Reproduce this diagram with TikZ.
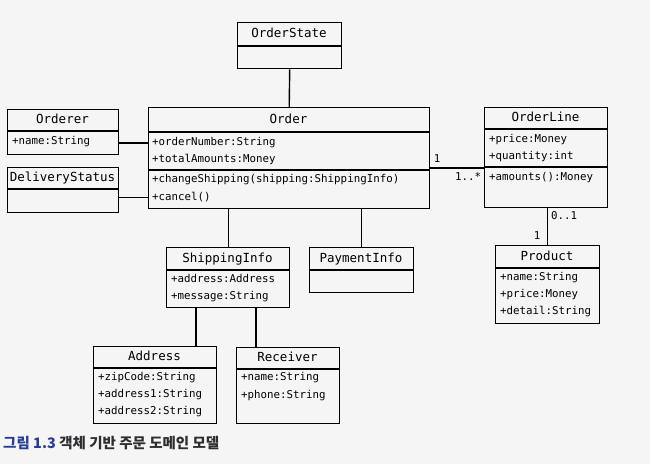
\documentclass[tikz,border=0pt]{standalone}
\usepackage{fontspec}
\setmonofont{DejaVu Sans Mono}
\newfontfamily\kfont{Noto Sans CJK KR}
\usetikzlibrary{calc}
\definecolor{capblue}{RGB}{40,62,150}
\definecolor{capgray}{RGB}{45,45,50}
\tikzset{
  cls/.style={draw, line width=1.4pt, inner sep=0pt, anchor=north west},
  ttl/.style={inner sep=0pt, text height=9pt, text depth=2.5pt, font=\fontsize{12.5}{14}\selectfont\ttfamily},
  mem/.style={inner sep=0pt, anchor=west, text height=8pt, text depth=2.5pt, font=\fontsize{10.8}{12}\selectfont\ttfamily},
  mult/.style={inner sep=0pt, text height=8pt, text depth=2.5pt, font=\fontsize{10.8}{12}\selectfont\ttfamily},
  assoc/.style={line width=1.4pt}
}

\begin{document}
\begin{tikzpicture}[x=1pt,y=-1pt]
\fill[black!4] (0,0) rectangle (650,464);
\useasboundingbox (0,0) rectangle (650,464);

%OrderState
\node[cls, minimum width=104pt, minimum height=46pt] (OrderState) at (237,22) {};
\draw[assoc] (OrderState.north west) ++(0,24) -- ++(104,0);
\node[ttl] (osT) at (289,34) {OrderState};

%Orderer and DeliveryStatus
\node[cls, minimum width=111pt, minimum height=45pt] (Orderer) at (7,109) {};
\draw[assoc] (Orderer.north west) ++(0,22) -- ++(111,0);
\node[ttl] (orT) at (62.5,120) {Orderer};
\node[mem] (orName) at (12,142) {+name:String};

\node[cls, minimum width=111pt, minimum height=45pt] (DeliveryStatus) at (7,167) {};
\draw[assoc] (DeliveryStatus.north west) ++(0,22) -- ++(111,0);
\node[ttl] (dsT) at (62.5,178) {DeliveryStatus};

%Order
\node[cls, minimum width=281pt, minimum height=101pt] (Order) at (148,107) {};
\draw[assoc] (Order.north west) ++(0,25) -- ++(281,0);
\draw[assoc] (Order.north west) ++(0,63) -- ++(281,0);
\node[ttl] (oT) at (288.5,120) {Order};
\node[mem] (oNum) at (152,143) {+orderNumber:String};
\node[mem] (oTot) at (152,160) {+totalAmounts:Money};
\node[mem] (oShip) at (152,180) {+changeShipping(shipping:ShippingInfo)};
\node[mem] (oCancel) at (152,197.5) {+cancel()};

%OrderLine
\node[cls, minimum width=123pt, minimum height=100pt] (OrderLine) at (484,107) {};
\draw[assoc] (OrderLine.north west) ++(0,22) -- ++(123,0);
\draw[assoc] (OrderLine.north west) ++(0,60) -- ++(123,0);
\node[ttl] (olT) at (545.5,118) {OrderLine};
\node[mem] (olPrice) at (489,140) {+price:Money};
\node[mem] (olQty) at (489,157) {+quantity:int};
\node[mem] (olAmt) at (489,178) {+amounts():Money};

%Product
\node[cls, minimum width=104pt, minimum height=78pt] (Product) at (495,245) {};
\draw[assoc] (Product.north west) ++(0,23) -- ++(104,0);
\node[ttl] (pT) at (547,257) {Product};
\node[mem] (pName) at (500,278) {+name:String};
\node[mem] (pPrice) at (500,295) {+price:Money};
\node[mem] (pDetail) at (500,312) {+detail:String};

%ShippingInfo and PaymentInfo
\node[cls, minimum width=123pt, minimum height=60pt] (ShippingInfo) at (166,247) {};
\draw[assoc] (ShippingInfo.north west) ++(0,23) -- ++(123,0);
\node[ttl] (siT) at (227.5,259) {ShippingInfo};
\node[mem] (siAddr) at (171,280) {+address:Address};
\node[mem] (siMsg) at (171,297) {+message:String};

\node[cls, minimum width=104pt, minimum height=45pt] (PaymentInfo) at (309,247) {};
\draw[assoc] (PaymentInfo.north west) ++(0,23) -- ++(104,0);
\node[ttl] (piT) at (361,259) {PaymentInfo};

%Address and Receiver
\node[cls, minimum width=123pt, minimum height=77pt] (Address) at (93,346) {};
\draw[assoc] (Address.north west) ++(0,22) -- ++(123,0);
\node[ttl] (aT) at (154.5,357) {Address};
\node[mem] (aZip) at (98,378) {+zipCode:String};
\node[mem] (aA1) at (98,395) {+address1:String};
\node[mem] (aA2) at (98,412) {+address2:String};

\node[cls, minimum width=103pt, minimum height=76pt] (Receiver) at (236,347) {};
\draw[assoc] (Receiver.north west) ++(0,22) -- ++(103,0);
\node[ttl] (rT) at (287.5,358) {Receiver};
\node[mem] (rName) at (241,378) {+name:String};
\node[mem] (rPhone) at (241,396) {+phone:String};

%Associations
\coordinate (olLink) at (484,168);
\coordinate (saLink) at (196,346);
\coordinate (srLink) at (256,347);
\draw[assoc] (OrderState.south) -- (Order.north);
\draw[assoc] (Orderer.east |- oNum) -- (Order.west |- oNum);
\draw[assoc] (DeliveryStatus.east |- oCancel) -- (Order.west |- oCancel);
\draw[assoc] (Order.east |- olLink) -- (olLink);
\draw[assoc] (ShippingInfo.north) -- (ShippingInfo.north |- Order.south);
\draw[assoc] (PaymentInfo.north) -- (PaymentInfo.north |- Order.south);
\draw[assoc] (saLink |- ShippingInfo.south) -- (saLink);
\draw[assoc] (srLink |- ShippingInfo.south) -- (srLink);
\draw[assoc] (Product.north) -- (Product.north |- OrderLine.south);

\node[mult] (m1) at (437,160) {1};
\node[mult] (m2) at (468,178) {1..*};
\node[mult] (m3) at (564,217) {0..1};
\node[mult] (m4) at (537,237) {1};

%Caption
\node[anchor=west, inner sep=0pt, font=\kfont\bfseries\fontsize{14.5}{18}\selectfont, text=capgray] (cap) at (3,443)
  {\textcolor{capblue}{그림 1.3} 객체 기반 주문 도메인 모델};

\end{tikzpicture}
\end{document}
